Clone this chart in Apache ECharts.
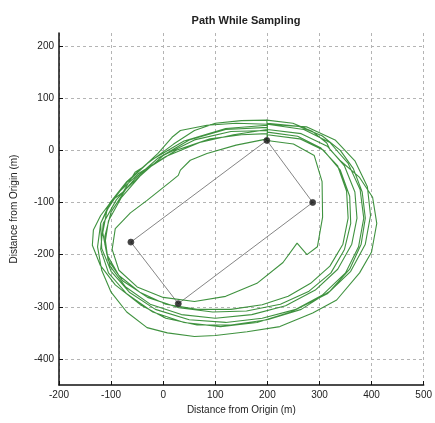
<!DOCTYPE html>
<html>
<head>
<meta charset="utf-8">
<script src="https://cdn.jsdelivr.net/npm/echarts@6/dist/echarts.min.js"></script>
<style>html,body{margin:0;padding:0;background:#fff}#c{width:435px;height:423px}</style>
</head>
<body>
<div id="c"></div>
<script>
// Tick labels
var xTicks = [-200, -100, 0, 100, 200, 300, 400, 500];
var yTicks = [-400, -300, -200, -100, 0, 100, 200];

// Sample waypoints (x, y in metres)
var waypointX = [199, 287, 29, -62, 199];
var waypointY = [19, -100, -294, -176, 19];

// Path laps (x, y in metres)
var lap1 = [[200,52],[260,46],[305,28],[340,0],[365,-35],[382,-80],[388,-130],[380,-180],[358,-228],[320,-270],[265,-305],[200,-325],[130,-335],[65,-335],[5,-322],[-44,-296],[-92,-258],[-121,-220],[-136,-182],[-134,-153],[-120,-125],[-98,-96],[-77,-80],[-54,-42],[-38,-32],[-10,-6],[17,25],[33,38],[84,48],[140,52],[200,50]];
var lap2 = [[200,48],[270,40],[320,15],[355,-25],[378,-75],[385,-130],[375,-185],[350,-235],[305,-278],[245,-310],[180,-330],[110,-338],[40,-330],[-20,-310],[-70,-275],[-105,-235],[-120,-190],[-115,-140],[-90,-95],[-55,-55],[-10,-15],[50,20],[120,40],[200,44]];
var lap3 = [[200,40],[265,32],[315,8],[348,-30],[368,-80],[372,-130],[362,-180],[335,-228],[292,-268],[235,-298],[170,-315],[100,-322],[35,-315],[-25,-295],[-72,-262],[-102,-222],[-112,-180],[-105,-135],[-80,-90],[-45,-50],[0,-10],[60,20],[130,36],[200,38]];
var lap4 = [[199,19],[250,12],[290,-10],[305,-60],[306,-128],[296,-185],[276,-200],[257,-178],[230,-215],[180,-255],[120,-280],[60,-290],[0,-282],[-50,-262],[-85,-230],[-98,-190],[-92,-150],[-63,-120],[-31,-96],[13,-61],[29,-48],[33,-38],[52,-19],[84,-6],[140,10],[200,22]];
var lap5 = [[200,30],[262,22],[308,0],[340,-38],[358,-88],[360,-140],[348,-190],[322,-235],[280,-270],[225,-295],[160,-308],[95,-310],[30,-302],[-30,-282],[-78,-250],[-106,-210],[-112,-165],[-100,-118],[-72,-75],[-30,-35],[25,0],[90,22],[150,30],[200,32]];
var lap6 = [[200,50],[275,45],[330,20],[368,-20],[392,-70],[398,-125],[388,-180],[360,-232],[315,-275],[255,-305],[190,-322],[120,-330],[50,-325],[-15,-305],[-65,-272],[-100,-232],[-118,-188],[-120,-140],[-102,-100],[-70,-60],[-25,-20],[40,18],[120,42],[200,48]];
var lap7 = [[200,35],[258,27],[302,5],[335,-30],[352,-78],[355,-130],[345,-180],[320,-222],[283,-255],[240,-280],[190,-296],[130,-305],[65,-305],[5,-295],[-45,-272],[-85,-240],[-108,-200],[-116,-158],[-108,-115],[-85,-80],[-48,-45],[5,-12],[70,15],[135,30],[200,40]];
var lap8 = [[199,58],[249,52],[287,36],[314,14],[320,2],[339,-19],[377,-52],[402,-90],[410,-140],[400,-195],[377,-235],[333,-287],[287,-312],[224,-338],[161,-348],[100,-355],[60,-357],[8,-350],[-31,-340],[-70,-310],[-100,-272],[-118,-230],[-126,-185],[-120,-140],[-100,-100],[-70,-62],[-30,-25],[20,12],[60,38],[100,52],[150,57],[199,58]];

var laps = [lap1, lap2, lap3, lap4, lap5, lap6, lap7, lap8];
var pathData = [];
laps.forEach(function (l) { l.forEach(function (p) { pathData.push(p); }); });
var wpData = waypointX.map(function (x, i) { return [x, waypointY[i]]; });
var wpPoints = wpData.slice(0, 4);

var font = '"Liberation Sans", Arial, sans-serif';
var chart = echarts.init(document.getElementById('c'), null, {renderer: 'canvas'});
chart.setOption({
  backgroundColor: '#fff',
  animation: false,
  title: {
    text: 'Path While Sampling', left: 241, top: 10, textAlign: 'center',
    textStyle: {fontFamily: font, fontSize: 11, fontWeight: 'bold', color: '#222'}
  },
  grid: {left: 59, right: 11, top: 33, bottom: 38, containLabel: false},
  xAxis: {
    type: 'value', min: -200, max: 500, interval: 100,
    name: 'Distance from Origin (m)', nameLocation: 'middle', nameGap: 20,
    nameTextStyle: {fontFamily: font, fontSize: 10, color: '#222'},
    axisLine: {show: true, onZero: false, lineStyle: {color: '#111', width: 1.5}},
    axisTick: {show: true, inside: true, length: 4, lineStyle: {color: '#111'}},
    axisLabel: {fontFamily: font, fontSize: 10, color: '#222', margin: 5,
      customValues: xTicks},
    splitLine: {show: true, lineStyle: {color: '#b4b4b4', type: [3, 3], width: 1}}
  },
  yAxis: {
    type: 'value', min: -450, max: 225,
    name: 'Distance from Origin (m)', nameLocation: 'middle', nameGap: 40, nameRotate: 90,
    nameTextStyle: {fontFamily: font, fontSize: 10, color: '#222'},
    axisLine: {show: true, onZero: false, lineStyle: {color: '#111', width: 1.5}},
    axisTick: {show: true, inside: true, length: 4, lineStyle: {color: '#111'}, customValues: yTicks},
    axisLabel: {fontFamily: font, fontSize: 10, color: '#222', margin: 5, customValues: yTicks},
    splitLine: {show: true, lineStyle: {color: '#b4b4b4', type: [3, 3], width: 1}}
  },
  series: [
    {
      type: 'line', data: pathData, showSymbol: false, smooth: false,
      lineStyle: {color: '#2a862a', width: 1.1, opacity: 0.9}, z: 3
    },
    {
      type: 'line', data: wpData, showSymbol: false,
      lineStyle: {color: '#666', width: 0.8}, z: 2
    },
    {
      type: 'scatter', data: wpPoints, symbolSize: 6,
      itemStyle: {color: '#111', borderColor: '#444', borderWidth: 1}, z: 5
    }
  ]
});
</script>
</body>
</html>
